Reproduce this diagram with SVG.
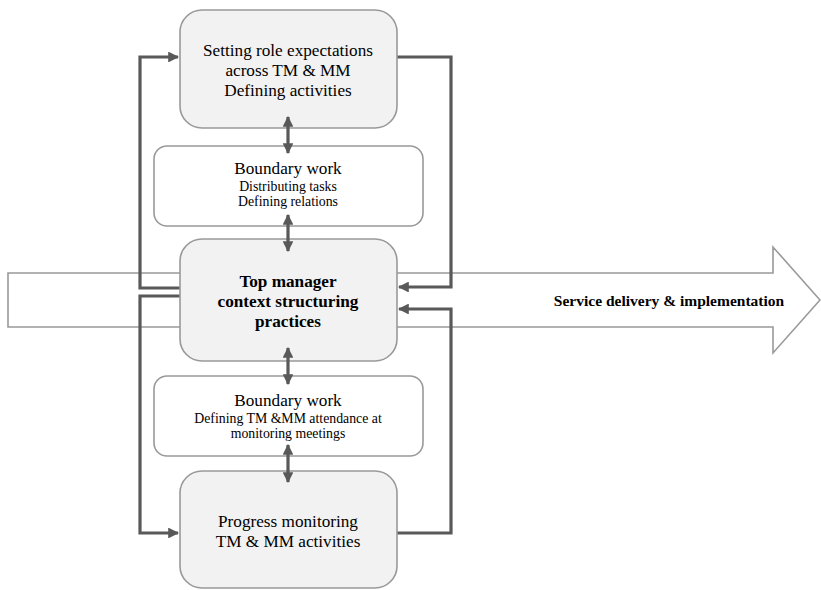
<svg xmlns="http://www.w3.org/2000/svg" width="821" height="590" viewBox="0 0 821 590">
<defs>
<style>
.main{fill:#f2f2f2;stroke:#999;stroke-width:1.6}
.bw{fill:#fff;stroke:#999;stroke-width:1.6}
.conn{fill:none;stroke:#595959;stroke-width:3.2}
.t{font-family:"Liberation Serif","Times New Roman",serif;fill:#000;text-anchor:middle}
.b{font-weight:bold}
.big{font-size:17.2px}
.sm{font-size:13.8px}
</style>
<marker id="ah" viewBox="0 0 10 10" refX="9" refY="5" markerWidth="3.4" markerHeight="3.4" orient="auto-start-reverse" markerUnits="strokeWidth">
<path d="M0,0 L10,5 L0,10 z" fill="#595959"/>
</marker>
</defs>
<rect width="821" height="590" fill="#fff"/>
<g id="service-arrow">
<path d="M8,273 L773,273 L773,247 L820,300 L773,353 L773,327 L8,327 Z" fill="#fff" stroke="#999" stroke-width="1.6"/>
<text class="t b" x="669" y="306" font-size="15.5">Service delivery &amp; implementation</text>
</g>
<g id="connectors">
<path class="conn" d="M180,288 H140 V57 H178" marker-end="url(#ah)"/>
<path class="conn" d="M397,57 H451 V287 H399" marker-end="url(#ah)"/>
<path class="conn" d="M180,296 H140 V533 H178" marker-end="url(#ah)"/>
<path class="conn" d="M397,533 H451 V309 H399" marker-end="url(#ah)"/>
</g>
<g id="top">
<rect class="main" x="180" y="10" width="217" height="118" rx="22"/>
<text class="t big" x="288" y="56">Setting role expectations</text>
<text class="t big" x="288" y="76">across TM &amp; MM</text>
<text class="t big" x="288" y="96">Defining activities</text>
</g>
<g id="boundary1">
<rect class="bw" x="154" y="146" width="269" height="80" rx="13"/>
<text class="t big" x="288" y="174">Boundary work</text>
<text class="t sm" x="288" y="191">Distributing tasks</text>
<text class="t sm" x="288" y="206">Defining relations</text>
</g>
<g id="central">
<rect class="main" x="180" y="239" width="217" height="122" rx="22"/>
<text class="t b big" x="288" y="287">Top manager</text>
<text class="t b big" x="288" y="307">context structuring</text>
<text class="t b big" x="288" y="327">practices</text>
</g>
<g id="boundary2">
<rect class="bw" x="154" y="376" width="269" height="80" rx="13"/>
<text class="t big" x="288" y="406">Boundary work</text>
<text class="t sm" x="288" y="423">Defining TM &amp;MM attendance at</text>
<text class="t sm" x="288" y="438">monitoring meetings</text>
</g>
<g id="bottom">
<rect class="main" x="180" y="471" width="217" height="117" rx="22"/>
<text class="t big" x="288" y="527">Progress monitoring</text>
<text class="t big" x="288" y="547">TM &amp; MM activities</text>
</g>
<g id="vertical-links">
<path class="conn" d="M288,117 V153" marker-start="url(#ah)" marker-end="url(#ah)"/>
<path class="conn" d="M288,215 V251" marker-start="url(#ah)" marker-end="url(#ah)"/>
<path class="conn" d="M288,348 V384" marker-start="url(#ah)" marker-end="url(#ah)"/>
<path class="conn" d="M288,445 V482" marker-start="url(#ah)" marker-end="url(#ah)"/>
</g>
</svg>
